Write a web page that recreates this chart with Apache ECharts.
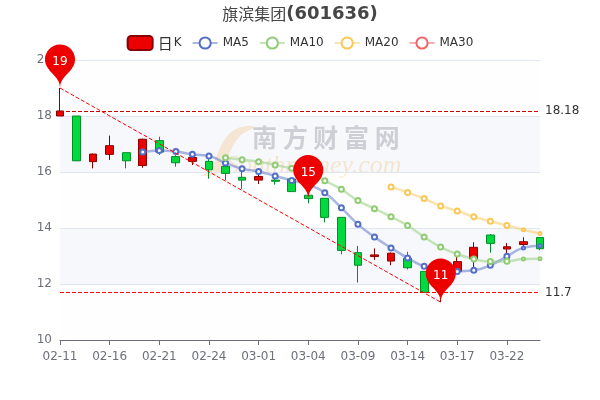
<!DOCTYPE html>
<html>
<head>
<meta charset="utf-8">
<script src="https://cdn.jsdelivr.net/npm/echarts@6/dist/echarts.min.js"></script>
<style>
html, body { margin: 0; padding: 0; background: #fff; }
#main { width: 600px; height: 400px; }
</style>
</head>
<body>
<div id="main"></div>
<script>
const dates = ['02-11','02-14','02-15','02-16','02-17','02-18','02-21','02-22','02-23','02-24',
    '02-25','02-28','03-01','03-02','03-03','03-04','03-07','03-08','03-09','03-10',
    '03-11','03-14','03-15','03-16','03-17','03-18','03-21','03-22','03-23','03-24'];
// open, close, low, high
const opens = [18.0,18.0,16.37,16.63,16.69,16.23,17.12,16.55,16.38,16.38,16.2,15.81,15.71,15.71,15.75,15.17,15.06,14.38,13.12,12.98,12.82,12.92,12.45,11.9,12.45,12.9,13.75,13.25,13.41,13.66];
const closes = [18.18,16.4,16.64,16.94,16.4,17.17,16.71,16.33,16.52,16.08,15.95,15.71,15.84,15.67,15.3,15.05,14.38,13.2,12.67,13.04,13.1,12.58,11.7,12.4,12.8,13.31,13.45,13.33,13.51,13.26];
const lows = [18.0,16.4,16.13,16.43,16.13,16.15,16.61,16.19,16.25,15.76,15.71,15.4,15.57,15.55,15.3,14.88,14.2,13.06,12.05,12.86,12.67,12.52,11.7,11.35,12.45,12.58,13.12,13.04,13.33,13.21];
const highs = [19.0,18.0,16.66,17.3,16.69,17.19,17.26,16.6,16.52,16.5,16.3,16.1,15.9,15.85,15.75,15.2,15.06,14.38,13.36,13.27,13.13,13.15,12.45,12.5,13.0,13.49,13.78,13.46,13.67,13.67];
const ma5 = ['-','-','-','-','-',16.71,16.77,16.73,16.63,16.57,16.32,16.12,16.02,15.86,15.7,15.55,15.26,14.72,14.13,13.68,13.29,12.93,12.63,12.5,12.45,12.49,12.67,12.99,13.29,13.37];
const ma10 = ['-','-','-','-','-','-','-','-','-','-',16.51,16.44,16.37,16.25,16.13,16.0,15.69,15.38,14.98,14.69,14.4,14.09,13.68,13.32,13.07,12.89,12.8,12.81,12.89,12.9];
const ma20 = ['-','-','-','-','-','-','-','-','-','-','-','-','-','-','-','-','-','-','-','-',15.46,15.27,15.05,14.79,14.61,14.4,14.24,14.09,13.94,13.8];
const ma30 = [];
const legendNames = ['日K','MA5','MA10','MA20','MA30'];

const chart = echarts.init(document.getElementById('main'));

function maSeries(name, data) {
    return {
        name: name,
        type: 'line',
        data: data,
        smooth: true,
        symbol: 'emptyCircle',
        // the last two markers are smaller in the picture
        symbolSize: (v, p) => (p.dataIndex >= 28 ? 3 : 5),
        showSymbol: true,
        lineStyle: { width: 2.5, opacity: 0.5 },
        z: 3
    };
}

const option = {
    animation: false,
    color: ['#5470c6', '#91cc75', '#fac858', '#ee6666'],
    textStyle: { fontFamily: '"DejaVu Sans", "Noto Sans CJK SC", sans-serif' },
    title: {
        text: '{cn|旗滨集团}{code|(601636)}',
        left: 'center',
        top: 0,
        textStyle: {
            rich: {
                cn: { color: '#464646', fontSize: 16, fontWeight: 'normal', fontFamily: '"Noto Sans CJK SC"' },
                code: { color: '#464646', fontSize: 18, fontWeight: 'bold', fontFamily: '"DejaVu Sans"' }
            }
        }
    },
    legend: {
        data: legendNames,
        top: 30,
        itemGap: 10,
        formatter: name => (name === '日K' ? '{cn|日}{k|K}' : name),
        textStyle: {
            color: '#333',
            fontSize: 12,
            rich: {
                cn: { fontSize: 15, color: '#333', fontFamily: '"Noto Sans CJK SC"', width: 15 },
                k: { fontSize: 12, color: '#333', width: 9, align: 'right' }
            }
        }
    },
    grid: { left: 60, right: 60, top: 60, bottom: 60 },
    graphic: [
        {
            type: 'polygon', z: 0, silent: true,
            shape: { points: [[254,127],[238,128],[225,139],[217,155],[212,168],[201,176],[224,170],[230,152],[240,136]], smooth: 0.4 },
            style: { fill: 'rgba(250,210,150,0.5)' }
        },
        {
            type: 'text', z: 0, silent: true, left: 252, top: 125,
            style: { text: '南 方 财 富 网', fill: 'rgba(170,170,175,0.6)', font: 'bold 25px "Noto Sans CJK SC"' }
        },
        {
            type: 'text', z: 0, silent: true, left: 226, top: 153,
            style: { text: 'Southmoney.com', fill: 'rgba(250,215,165,0.6)', font: 'italic 26px "Liberation Serif"' }
        }
    ],
    xAxis: {
        type: 'category',
        data: dates,
        boundaryGap: false,
        axisLine: { lineStyle: { color: '#6E7079' } },
        axisTick: { alignWithLabel: true, interval: 2 },
        axisLabel: { interval: 2, color: '#6E7079', fontSize: 12, margin: 11 },
        splitLine: { show: false }
    },
    yAxis: {
        type: 'value',
        min: 10,
        max: 20,
        interval: 2,
        axisLine: { show: false },
        axisTick: { show: false },
        axisLabel: { color: '#6E7079', fontSize: 12, padding: [3, 0, 0, 0] },
        splitLine: { lineStyle: { color: '#E0E6F1' } },
        splitArea: { show: true, areaStyle: { color: ['rgba(250,250,250,0.2)', 'rgba(210,219,238,0.2)'] } }
    },
    series: [
        {
            name: '日K',
            type: 'candlestick',
            clip: false,
            data: dates.map((d, i) => [opens[i], closes[i], lows[i], highs[i]]),
            itemStyle: { color: '#ec0000', color0: '#00da3c', borderColor: '#8A0000', borderColor0: '#008F28' },
            markPoint: {
                label: { color: '#fff' },
                itemStyle: { color: '#ec0000' },
                data: [
                    { coord: [0, 19], value: 19 },
                    { coord: [15, 15.05], value: 15 },
                    { coord: [23, 11.35], value: 11 }
                ]
            },
            markLine: {
                symbol: 'none',
                data: [
                    { yAxis: 18.18, lineStyle: { color: '#d00000', type: 'dashed', width: 1 }, label: { color: '#333', formatter: '18.18' } },
                    { yAxis: 11.7, lineStyle: { color: '#ff0000', type: 'dashed', width: 1 }, label: { color: '#333', formatter: '11.7' } },
                    [
                        { coord: [0, 19], lineStyle: { color: '#ff0000', type: 'dashed', width: 1 }, label: { show: false } },
                        { coord: [23, 11.35] }
                    ]
                ]
            }
        },
        maSeries('MA5', ma5),
        maSeries('MA10', ma10),
        maSeries('MA20', ma20),
        maSeries('MA30', ma30)
    ]
};
chart.setOption(option);
</script>
</body>
</html>
